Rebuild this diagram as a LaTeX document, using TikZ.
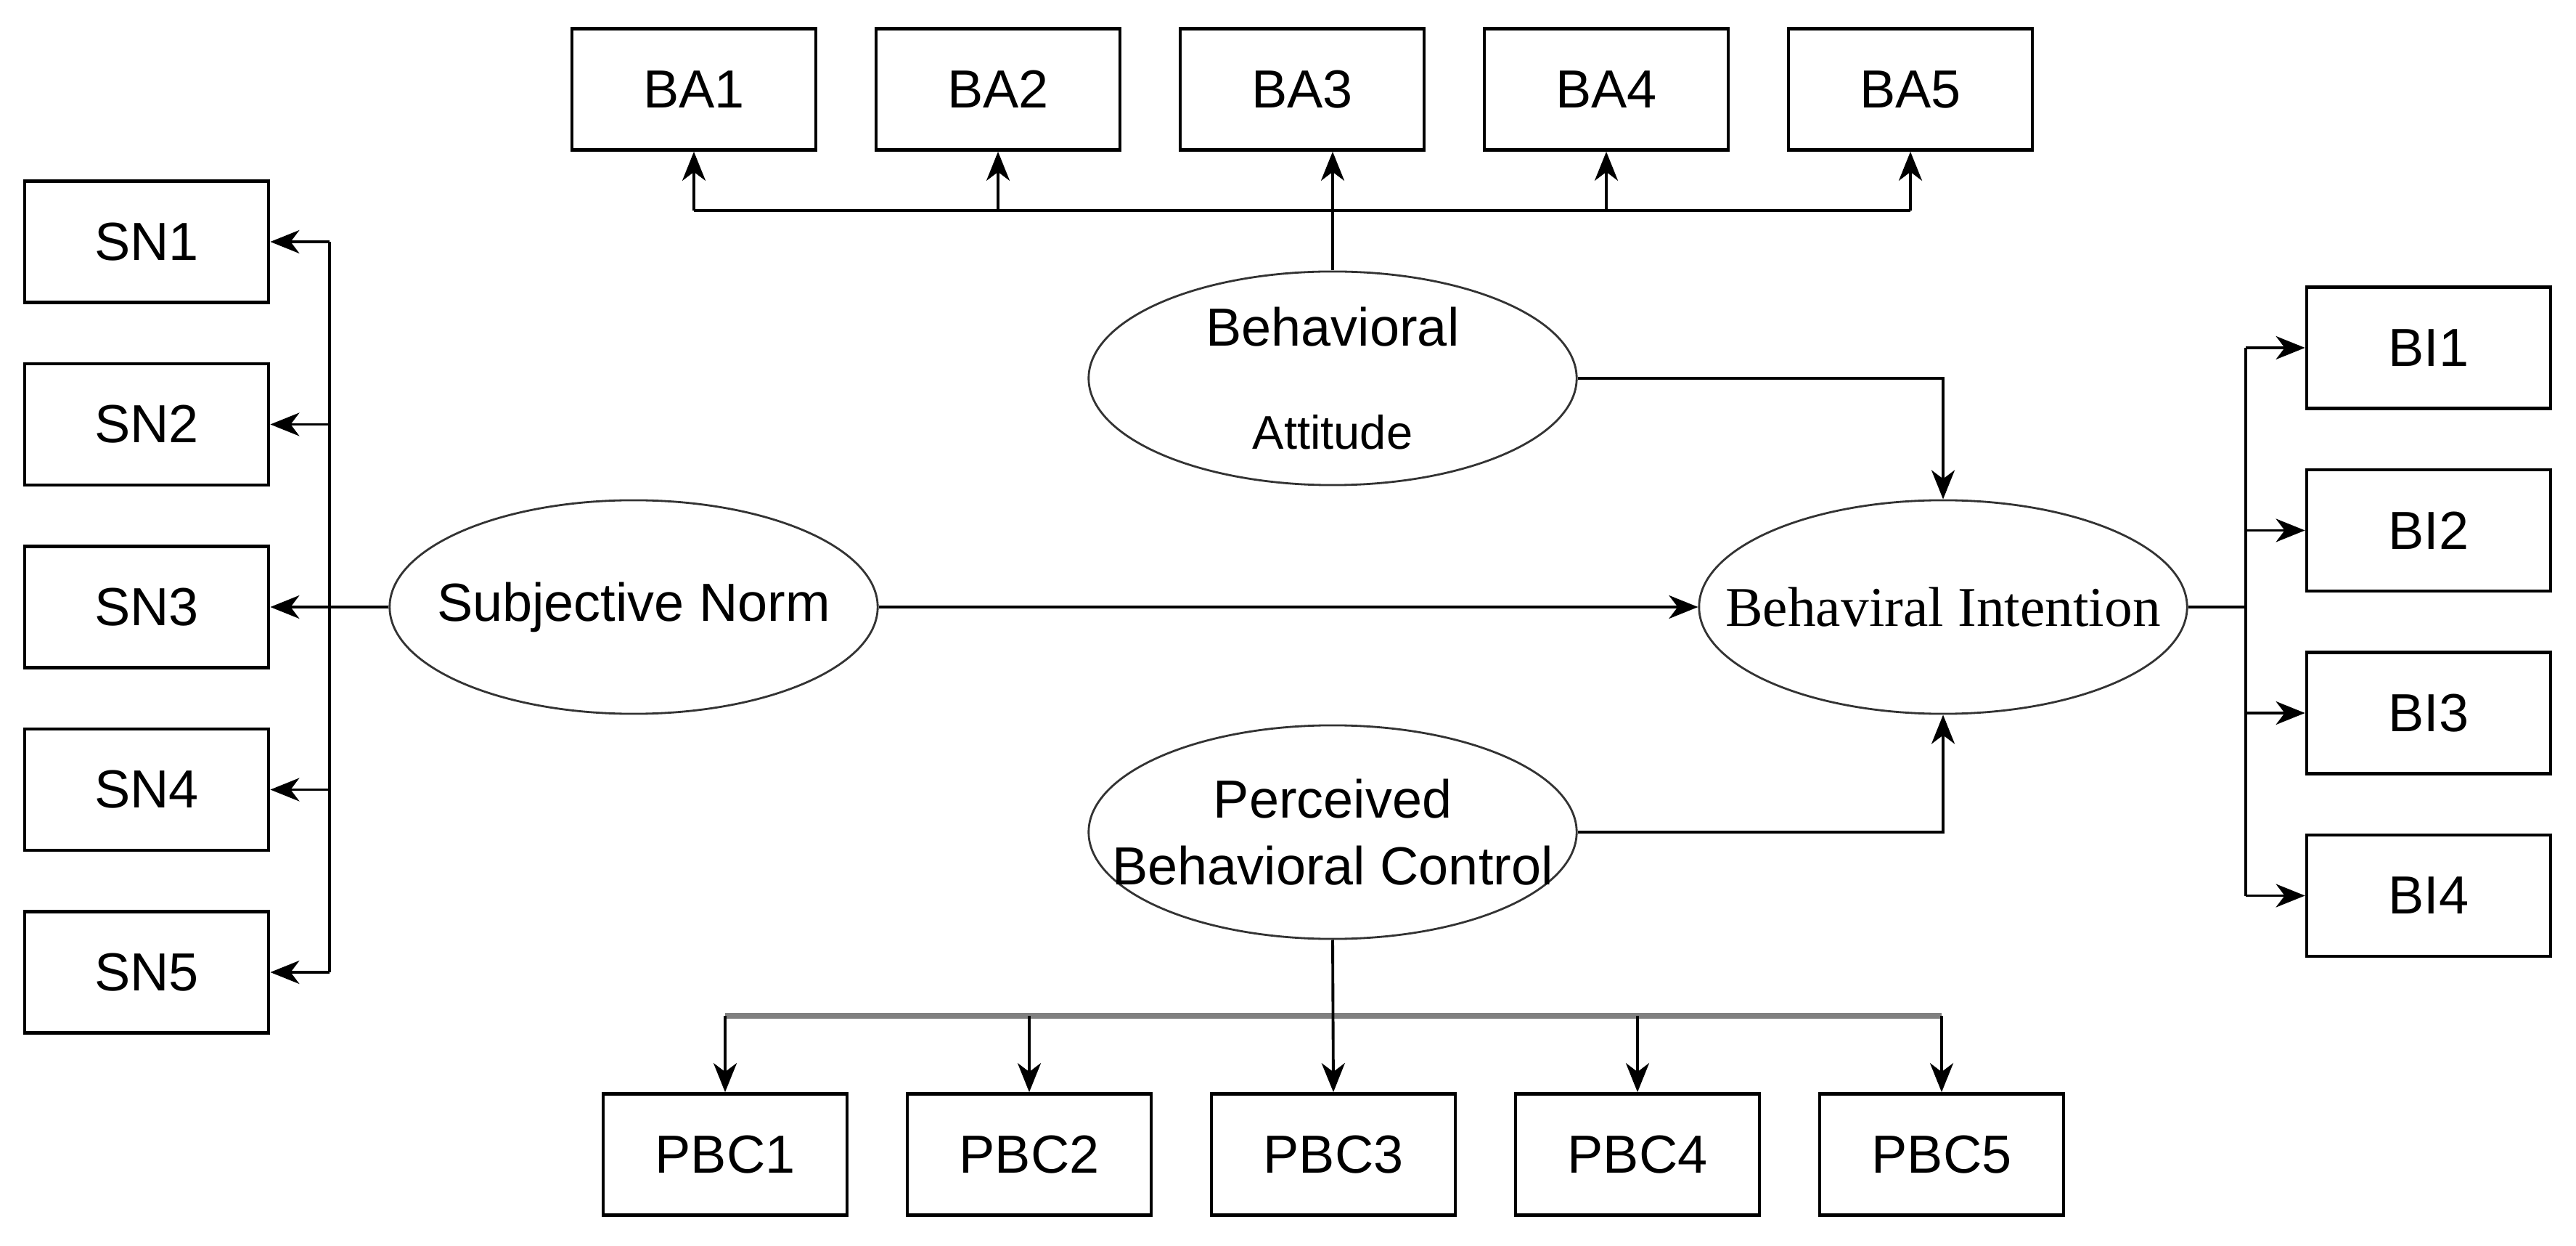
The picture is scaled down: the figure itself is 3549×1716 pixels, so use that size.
\documentclass[tikz,border=0pt]{standalone}
\usepackage{fontspec}
\setmainfont{Liberation Sans}
\newfontfamily\timesfont{Liberation Serif}
\usetikzlibrary{arrows.meta,shapes.geometric,positioning}
\definecolor{busGray}{HTML}{808080}

\tikzset{
    itembox/.style={draw, line width=1.3pt, minimum width=3.36cm, minimum height=1.67cm,
        inner sep=0pt, font=\fontsize{21}{25}\selectfont},
    construct/.style={ellipse, draw=black!80, line width=0.8pt, minimum width=6.72cm,
        minimum height=2.94cm, inner sep=0pt},
    ctext/.style={align=center, inner sep=0pt, font=\fontsize{21}{26}\selectfont},
    link/.style={line width=1.1pt, -{Stealth[length=0.4cm, width=0.32cm, inset=0.12cm]}},
    bus/.style={line width=1.1pt}
}

\begin{document}
\begin{tikzpicture}[x=0.01cm, y=-0.01cm]
    \useasboundingbox (0,0) rectangle (3549,1716);
    \def\dx{419}
    \def\dy{251.5}

    % indicator boxes
    \foreach \i in {1,...,5} {
        \node[itembox] (ba\i) at (956+\i*\dx-\dx, 123) {BA\i};
        \node[itembox] (pbc\i) at (999+\i*\dx-\dx, 1590) {PBC\i};
        \node[itembox] (sn\i) at (202, 333+\i*\dy-\dy) {SN\i};
    }
    \foreach \i in {1,...,4}
        \node[itembox] (bi\i) at (3346, 479+\i*\dy-\dy) {BI\i};

    % constructs
    \node[construct, label={[ctext]center:Subjective Norm}] (sno) at (873,836) {};
    \node[construct, label={[ctext]center:Behavioral\\[0.5cm]{\fontsize{18.5}{22}\selectfont Attitude}}] (bav) at (1836,521) {};
    \node[construct, label={[ctext, font=\timesfont\fontsize{22}{26}\selectfont]center:Behaviral Intention}] (bio) at (2677,836) {};
    \node[construct, label={[ctext]center:Perceived\\Behavioral Control}] (pbc) at (1836,1146) {};

    % bus coordinates
    \coordinate (babus) at (0,290);
    \coordinate (snbus) at (454,0);
    \coordinate (bibus) at (3094,0);
    \coordinate (pbcbus) at (0,1399);

    % attitude -> BA items
    \draw[bus] (ba1.south |- babus) -- (ba5.south |- babus);
    \draw[link] (bav.north) -- (bav.north |- ba3.south);
    \foreach \i in {1,2,4,5}
        \draw[link] (ba\i.south |- babus) -- (ba\i.south);

    % subjective norm -> SN items
    \draw[bus] (sn1.east -| snbus) -- (sn5.east -| snbus);
    \draw[link] (sno.west) -- (sn3.east);
    \foreach \i in {1,2,4,5}
        \draw[link] (sn\i.east -| snbus) -- (sn\i.east);

    % intention -> BI items
    \draw[bus] (bio.east) -- (bio.east -| bibus);
    \draw[bus] (bi1.west -| bibus) -- (bi4.west -| bibus);
    \foreach \i in {1,...,4}
        \draw[link] (bi\i.west -| bibus) -- (bi\i.west);

    % control -> PBC items
    \draw[busGray, line width=2.2pt] (pbc1.north |- pbcbus) -- (pbc5.north |- pbcbus);
    \draw[link] (pbc.south) -- (pbc3.north);
    \foreach \i in {1,2,4,5}
        \draw[link] (pbc\i.north |- pbcbus) -- (pbc\i.north);

    % paths into intention
    \draw[link] (sno.east) -- (bio.west);
    \draw[link] (bav.east) -| (bio.north);
    \draw[link] (pbc.east) -| (bio.south);
\end{tikzpicture}
\end{document}
